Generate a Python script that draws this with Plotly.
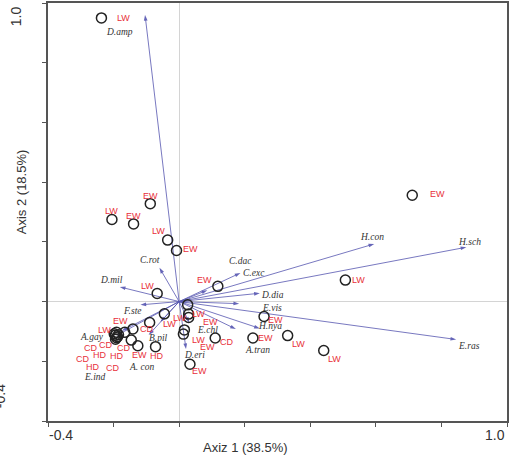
import plotly.graph_objects as go

# ---------------- data ----------------
# species vectors (arrow tips, axis units)
species_names = ["D.amp", "H.con", "H.sch", "E.ras", "D.mil", "C.rot", "F.ste", "C.dac", "C.exc",
                 "D.dia", "E.vis", "H.nya", "E.chl", "A.tran", "D.eri", "B.pil", "A.gay", "A. con", "E.ind"]
species_ax1 = [-0.104, 0.595, 0.876, 0.845, -0.181, -0.060, -0.118, 0.086, 0.187,
               0.246, 0.183, 0.246, 0.031, 0.173, 0.021, -0.093, -0.175, -0.057, -0.191]
species_ax2 = [0.960, 0.193, 0.182, -0.127, 0.049, 0.113, -0.011, 0.038, 0.096,
               0.028, -0.007, -0.090, -0.071, -0.092, -0.159, -0.112, -0.098, -0.068, -0.114]

# sample sites
site_ax1 = [-0.237, 0.711, -0.088, -0.205, -0.139, -0.035, -0.008, -0.067, 0.118, 0.507,
            0.441, 0.331, 0.225, 0.259, 0.110, 0.033, 0.026, 0.029, 0.029, 0.016,
            0.013, -0.045, -0.090, -0.141, -0.191, -0.195, -0.191, -0.185, -0.194, -0.188,
            -0.166, -0.146, -0.126, -0.072, -0.198]
site_ax2 = [0.950, 0.356, 0.328, 0.275, 0.260, 0.206, 0.171, 0.027, 0.051, 0.072,
             -0.164, -0.114, -0.122, -0.050, -0.122, -0.210, -0.011, -0.042, -0.053, -0.095,
             -0.109, -0.041, -0.070, -0.092, -0.103, -0.113, -0.121, -0.111, -0.126, -0.118,
             -0.103, -0.129, -0.148, -0.151, -0.108]
site_group = ["LW", "EW", "EW", "LW", "EW", "LW", "EW", "LW", "EW", "LW",
              "LW", "LW", "EW", "EW", "CD", "EW", "LW", "EW", "LW", "LW",
              "EW", "LW", "CD", "EW", "LW", "CD", "HD", "CD", "HD", "CD",
              "HD", "CD", "EW", "HD", "CD"]

x_range = [-0.4, 1.0]
y_range = [-0.4, 1.0]
x_title = "Axiz 1 (38.5%)"
y_title = "Axis 2 (18.5%)"

# ---------------- label placement (pixel offsets, style) ----------------
species_label_offsets = [(-26, 17), (-2, -7), (3, -5), (13, 7), (-8, -7), (-9, -8), (-8, 6), (33, -29), (14, 0),
                         (13, 2), (33, 4), (10, -2), (18, 7), (22, 21), (8, 6), (10, 3), (-30, 6), (-18, 45), (-22, 41)]
site_label_offsets = [(22, 0), (25, -1), (0, -8), (0, -8), (0, -8), (-9, -9), (14, -2), (-10, -8), (-13, -6), (13, 0),
                      (11, 8), (11, 8), (13, 0), (11, 3), (12, 4), (10, 7), (11, 9), (22, 8), (-9, 1), (14, 10),
                      (24, 13), (5, 10), (-3, 7), (-12, -8), (-12, -2), (-24, 13), (-17, 17), (-35, 24), (-23, 28), (-5, 31),
                      (-8, 24), (-7, 8), (2, 9), (1, 9), (-8, 11)]

ARROW_LINE = "#5656b0"
ARROW_HEAD = "#23239a"
SITE_RED = "#e8303a"

fig = go.Figure()

# species arrows
for name, sx, sy in zip(species_names, species_ax1, species_ax2):
    fig.add_trace(go.Scatter(
        x=[0, sx], y=[0, sy], mode="lines+markers",
        line=dict(color=ARROW_LINE, width=0.8),
        marker=dict(symbol="arrow", size=[0, 6], angleref="previous", color=ARROW_HEAD,
                    line=dict(width=0)),
        hoverinfo="skip", showlegend=False))

# sites
fig.add_trace(go.Scatter(
    x=site_ax1, y=site_ax2, mode="markers",
    marker=dict(symbol="circle-open", size=10, color="#222222", line=dict(width=1.5)),
    hoverinfo="skip", showlegend=False))

annotations = []
for name, sx, sy, (dx, dy) in zip(species_names, species_ax1, species_ax2, species_label_offsets):
    annotations.append(dict(x=sx, y=sy, xref="x", yref="y", text=name, showarrow=False,
                            xshift=dx, yshift=-dy,
                            font=dict(family="Liberation Serif", size=9.5, color="#333333", style="italic")))
for g, sx, sy, (dx, dy) in zip(site_group, site_ax1, site_ax2, site_label_offsets):
    annotations.append(dict(x=sx, y=sy, xref="x", yref="y", text=g, showarrow=False,
                            xshift=dx, yshift=-dy,
                            font=dict(family="Liberation Sans", size=9, color=SITE_RED)))

axis_font = dict(family="Liberation Sans", size=14, color="#333333")
# tick labels (only end values, placed inside as in the original)
annotations += [
    dict(x=-0.002, y=-0.033, xref="paper", yref="paper", text=f"{x_range[0]:.1f}", showarrow=False,
         xanchor="left", yanchor="middle", font=axis_font),
    dict(x=0.999, y=-0.033, xref="paper", yref="paper", text=f"{x_range[1]:.1f}", showarrow=False,
         xanchor="right", yanchor="middle", font=axis_font),
    dict(x=-0.068, y=0.968, xref="paper", yref="paper", text=f"{y_range[1]:.1f}", showarrow=False,
         textangle=-90, xanchor="center", yanchor="middle", font=axis_font),
    dict(x=-0.104, y=0.06, xref="paper", yref="paper", text=f"{y_range[0]:.1f}", showarrow=False,
         textangle=-90, xanchor="center", yanchor="middle", font=axis_font),
    dict(x=0.4295, y=-0.064, xref="paper", yref="paper", text=x_title, showarrow=False,
         xanchor="center", yanchor="middle", font=dict(family="Liberation Sans", size=13, color="#333333")),
    dict(x=-0.0586, y=0.5476, xref="paper", yref="paper", text=y_title, showarrow=False,
         textangle=-90, xanchor="center", yanchor="middle",
         font=dict(family="Liberation Sans", size=13, color="#333333")),
]

axis_common = dict(showgrid=False, zeroline=True, zerolinecolor="#d4d4d4", zerolinewidth=1,
                   showline=True, linecolor="#555555", linewidth=1.5, mirror=True,
                   ticks="outside", ticklen=4, tickwidth=1, tickcolor="#555555",
                   showticklabels=False, dtick=0.2, tick0=-0.4)

fig.update_layout(
    width=510, height=456,
    margin=dict(l=48, r=1, t=1, b=35),
    plot_bgcolor="white", paper_bgcolor="white",
    xaxis=dict(range=x_range, **axis_common),
    yaxis=dict(range=y_range, **axis_common),
    annotations=annotations,
    showlegend=False,
)

fig.write_html("out.html", config={"displayModeBar": False},
               post_script="document.body.style.margin='0';document.body.style.overflow='hidden';")
